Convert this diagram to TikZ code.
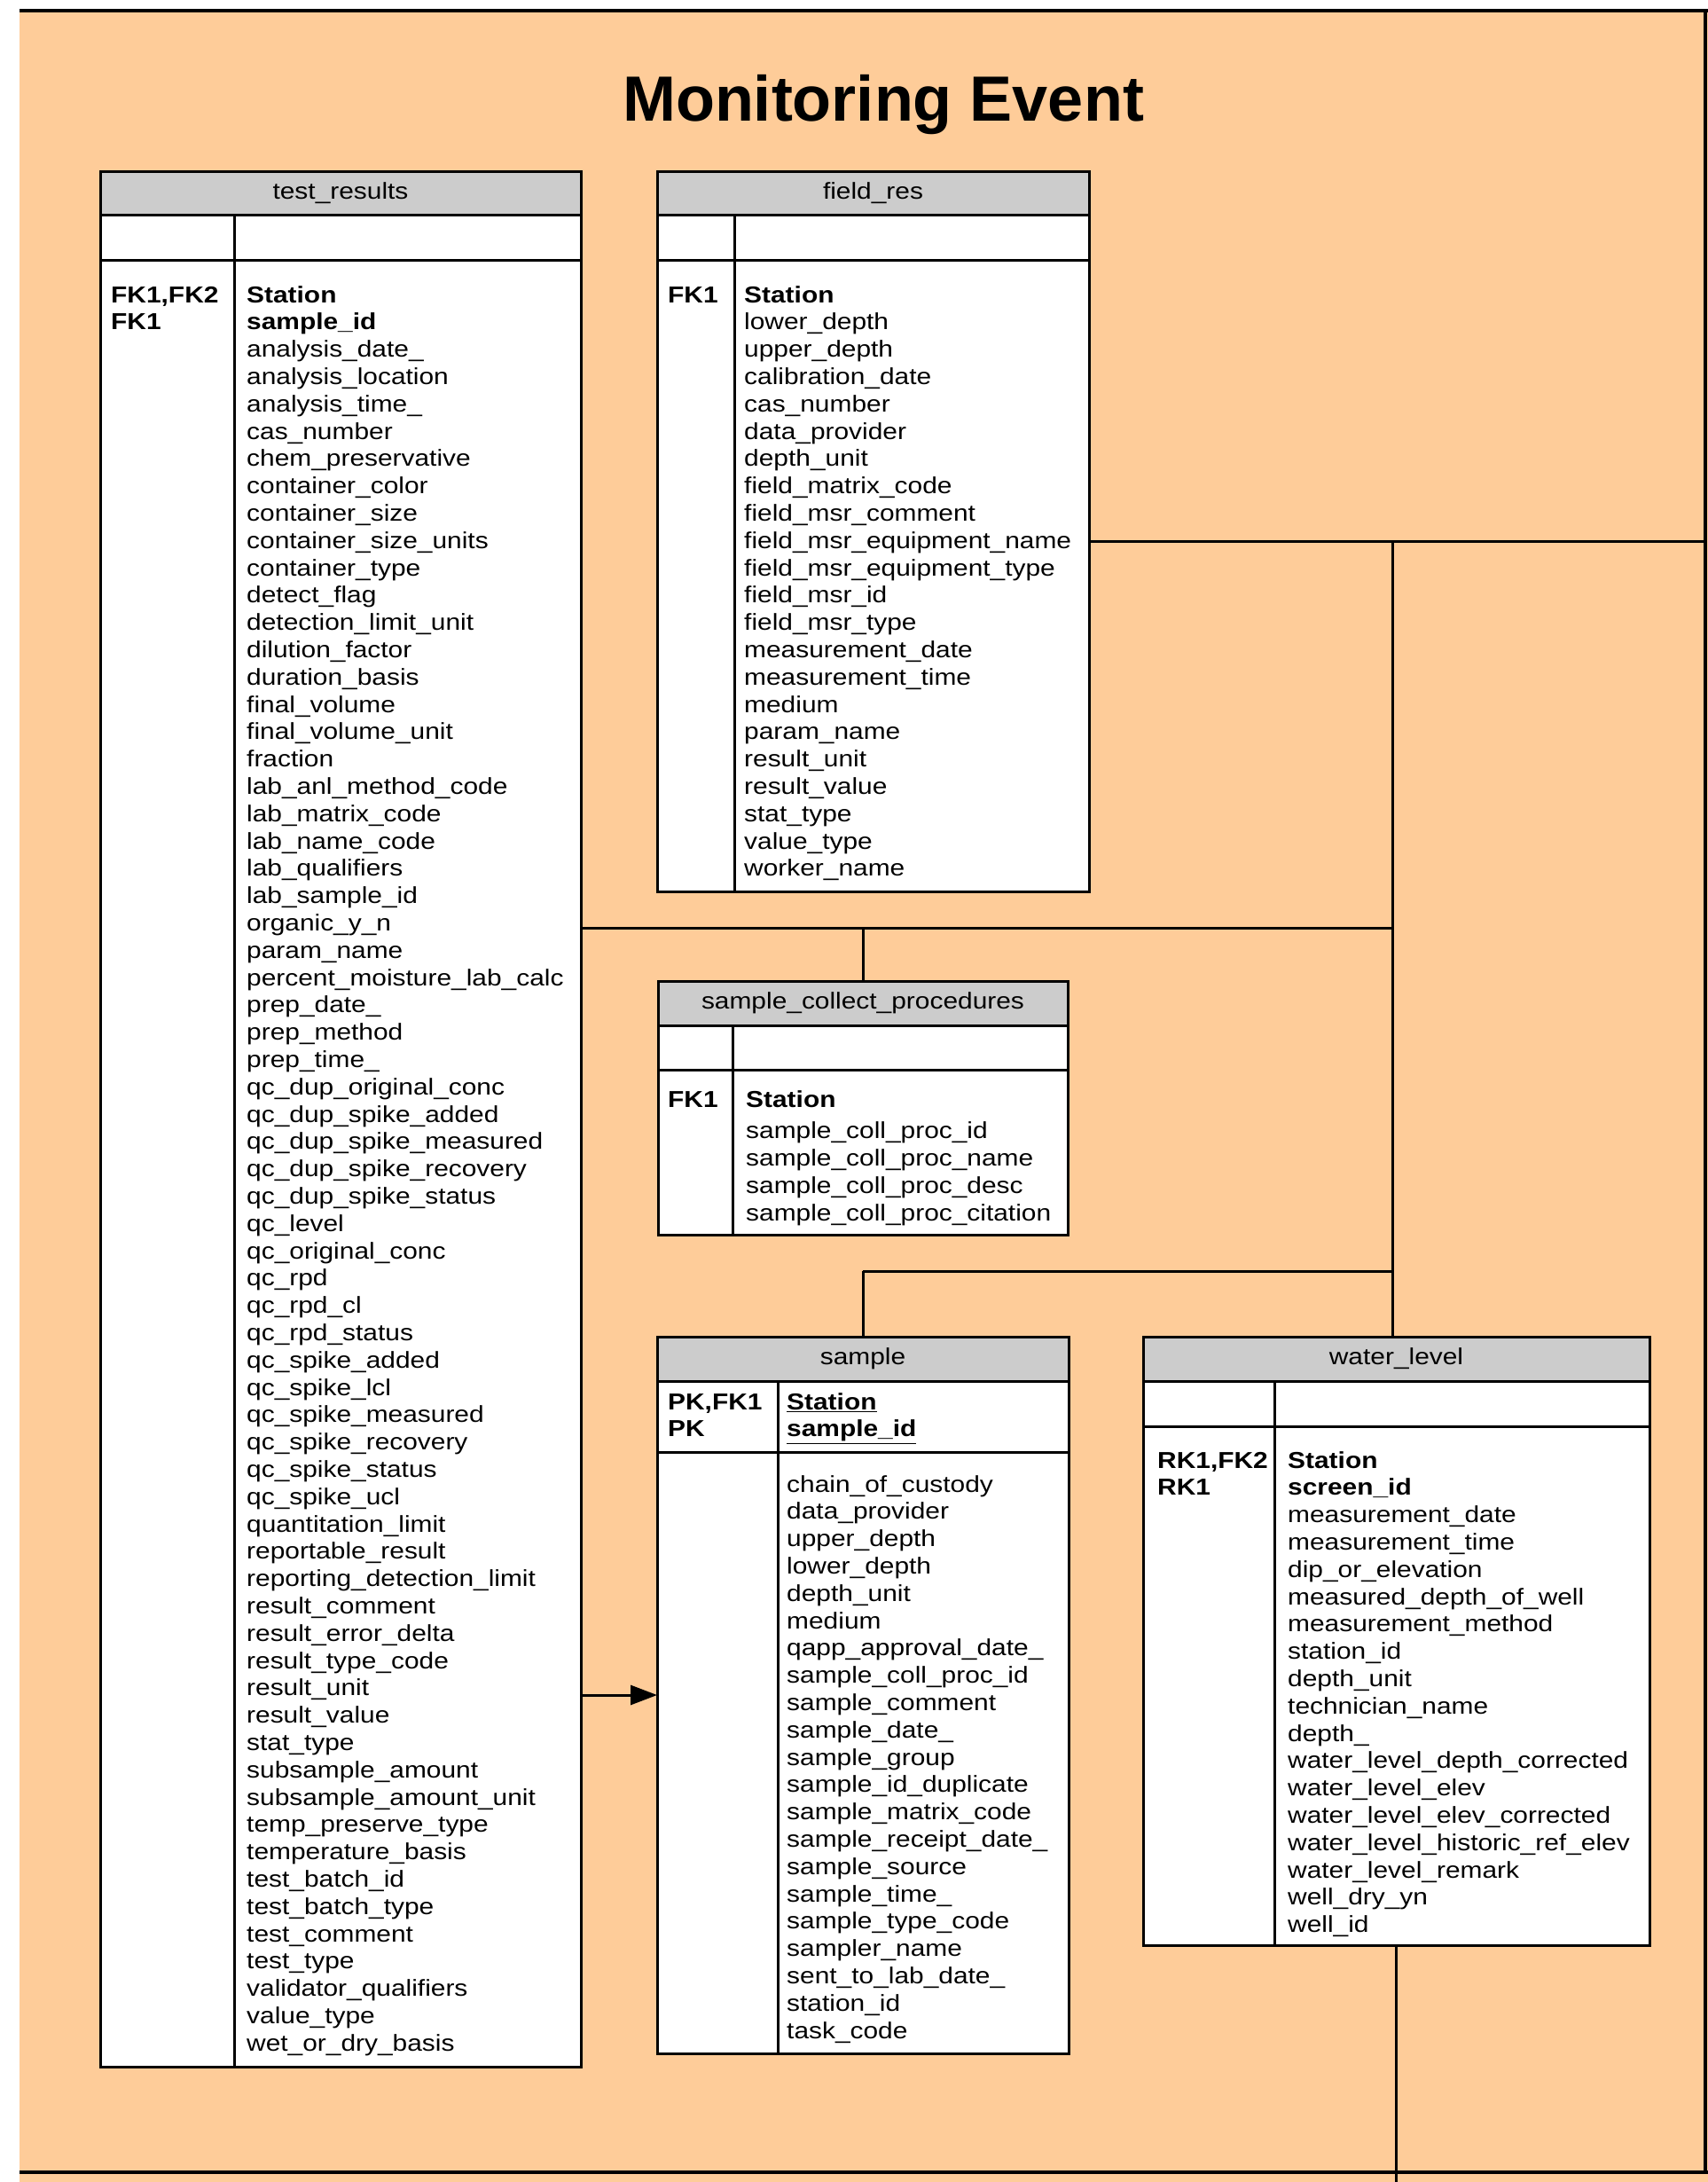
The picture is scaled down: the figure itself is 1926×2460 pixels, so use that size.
\documentclass[tikz,border=0pt]{standalone}
\usepackage{fontspec}
\setmainfont{Liberation Sans}[FakeStretch=1.15]
\newfontfamily\titlefont{Liberation Sans}
\usetikzlibrary{arrows.meta}
\definecolor{eventbg}{RGB}{254,204,153}
\definecolor{headgray}{RGB}{204,204,204}

\begin{document}
\catcode`\_=12
\begin{tikzpicture}[x=1pt, y=-1pt,
    tableline/.style={line width=3pt},
    tablehead/.style={draw, line width=3pt, fill=headgray, anchor=north west, inner sep=0pt, outer sep=0pt,
        font=\fontsize{26}{30.8}\selectfont},
    tablerow/.style={draw, line width=3pt, fill=white, anchor=north west, inner sep=0pt, outer sep=0pt},
    fields/.style={anchor=north west, inner sep=0pt, align=left, font=\fontsize{26}{30.8}\selectfont},
    keys/.style={fields, font=\fontsize{26}{30.8}\selectfont\bfseries},
    link/.style={line width=3pt},
    frameline/.style={line width=4pt}]
    \useasboundingbox (0,0) rectangle (1926,2460);
    \fill[white] (0,0) rectangle (1926,2460);

    % Monitoring Event area
    \fill[eventbg] (22,12) rectangle (1926,2460);
    \draw[frameline] (22,12) -- (1926,12)
        (1923,12) -- (1923,2449)
        (22,2449) -- (1926,2449);
    \node[font=\titlefont\bfseries\fontsize{72}{80}\selectfont, anchor=base] (title) at (996,136) {Monitoring Event};

    % test_results
    \node[tablehead, minimum width=542pt, minimum height=49pt] (trhead) at (113,193) {test_results};
    \node[tablerow, minimum width=542pt, minimum height=51pt] (trkey) at (113,242) {};
    \node[tablerow, minimum width=542pt, minimum height=2037pt] (trbody) at (113,293) {};
    \draw[tableline] (264,242) -- (264,2330);
    \node[keys] (trkeys) at (125,319.4) {\strut FK1,FK2\\FK1};
    \node[fields] (trfields) at (278,319.4) {\strut\textbf{Station}\\
        \textbf{sample_id}\\
        analysis_date_\\
        analysis_location\\
        analysis_time_\\
        cas_number\\
        chem_preservative\\
        container_color\\
        container_size\\
        container_size_units\\
        container_type\\
        detect_flag\\
        detection_limit_unit\\
        dilution_factor\\
        duration_basis\\
        final_volume\\
        final_volume_unit\\
        fraction\\
        lab_anl_method_code\\
        lab_matrix_code\\
        lab_name_code\\
        lab_qualifiers\\
        lab_sample_id\\
        organic_y_n\\
        param_name\\
        percent_moisture_lab_calc\\
        prep_date_\\
        prep_method\\
        prep_time_\\
        qc_dup_original_conc\\
        qc_dup_spike_added\\
        qc_dup_spike_measured\\
        qc_dup_spike_recovery\\
        qc_dup_spike_status\\
        qc_level\\
        qc_original_conc\\
        qc_rpd\\
        qc_rpd_cl\\
        qc_rpd_status\\
        qc_spike_added\\
        qc_spike_lcl\\
        qc_spike_measured\\
        qc_spike_recovery\\
        qc_spike_status\\
        qc_spike_ucl\\
        quantitation_limit\\
        reportable_result\\
        reporting_detection_limit\\
        result_comment\\
        result_error_delta\\
        result_type_code\\
        result_unit\\
        result_value\\
        stat_type\\
        subsample_amount\\
        subsample_amount_unit\\
        temp_preserve_type\\
        temperature_basis\\
        test_batch_id\\
        test_batch_type\\
        test_comment\\
        test_type\\
        validator_qualifiers\\
        value_type\\
        wet_or_dry_basis};

    % field_res
    \node[tablehead, minimum width=487pt, minimum height=49pt] (frhead) at (741,193) {field_res};
    \node[tablerow, minimum width=487pt, minimum height=51pt] (frkey) at (741,242) {};
    \node[tablerow, minimum width=487pt, minimum height=712pt] (frbody) at (741,293) {};
    \draw[tableline] (828,242) -- (828,1005);
    \node[keys] (frkeys) at (753,319.4) {\strut FK1};
    \node[fields] (frfields) at (839,319.4) {\strut\textbf{Station}\\
        lower_depth\\
        upper_depth\\
        calibration_date\\
        cas_number\\
        data_provider\\
        depth_unit\\
        field_matrix_code\\
        field_msr_comment\\
        field_msr_equipment_name\\
        field_msr_equipment_type\\
        field_msr_id\\
        field_msr_type\\
        measurement_date\\
        measurement_time\\
        medium\\
        param_name\\
        result_unit\\
        result_value\\
        stat_type\\
        value_type\\
        worker_name};

    % sample_collect_procedures
    \node[tablehead, minimum width=462pt, minimum height=50pt] (sphead) at (742,1106) {sample_collect_procedures};
    \node[tablerow, minimum width=462pt, minimum height=50pt] (spkey) at (742,1156) {};
    \node[tablerow, minimum width=462pt, minimum height=186pt] (spbody) at (742,1206) {};
    \draw[tableline] (826,1156) -- (826,1392);
    \node[keys] (spkeys) at (753,1226.4) {\strut FK1};
    \node[fields] (spfields) at (841,1226.4) {\strut\textbf{Station}\\[5pt]
        sample_coll_proc_id\\
        sample_coll_proc_name\\
        sample_coll_proc_desc\\
        sample_coll_proc_citation};

    % sample
    \node[tablehead, minimum width=464pt, minimum height=50pt] (smhead) at (741,1507) {sample};
    \node[tablerow, minimum width=464pt, minimum height=80pt] (smkey) at (741,1557) {};
    \node[tablerow, minimum width=464pt, minimum height=678pt] (smbody) at (741,1637) {};
    \draw[tableline] (877,1557) -- (877,2315);
    \node[keys] (smkeys) at (753,1567.4) {\strut PK,FK1\\PK};
    \node[fields] (smpk) at (887,1567.4) {\strut\underline{\textbf{Station}}\\\underline{\textbf{sample_id}}};
    \node[fields] (smfields) at (887,1660.4) {\strut chain_of_custody\\
        data_provider\\
        upper_depth\\
        lower_depth\\
        depth_unit\\
        medium\\
        qapp_approval_date_\\
        sample_coll_proc_id\\
        sample_comment\\
        sample_date_\\
        sample_group\\
        sample_id_duplicate\\
        sample_matrix_code\\
        sample_receipt_date_\\
        sample_source\\
        sample_time_\\
        sample_type_code\\
        sampler_name\\
        sent_to_lab_date_\\
        station_id\\
        task_code};

    % water_level
    \node[tablehead, minimum width=571pt, minimum height=50pt] (wlhead) at (1289,1507) {water_level};
    \node[tablerow, minimum width=571pt, minimum height=51pt] (wlkey) at (1289,1557) {};
    \node[tablerow, minimum width=571pt, minimum height=585pt] (wlbody) at (1289,1608) {};
    \draw[tableline] (1437,1557) -- (1437,2193);
    \node[keys] (wlkeys) at (1305,1633.4) {\strut RK1,FK2\\RK1};
    \node[fields] (wlfields) at (1452,1633.4) {\strut\textbf{Station}\\
        \textbf{screen_id}\\
        measurement_date\\
        measurement_time\\
        dip_or_elevation\\
        measured_depth_of_well\\
        measurement_method\\
        station_id\\
        depth_unit\\
        technician_name\\
        depth_\\
        water_level_depth_corrected\\
        water_level_elev\\
        water_level_elev_corrected\\
        water_level_historic_ref_elev\\
        water_level_remark\\
        well_dry_yn\\
        well_id};

    % relationships
    \coordinate (jfr) at (1570,610);
    \coordinate (exitr) at (1923,610);
    \coordinate (jtr) at (1570,1046);
    \coordinate (jsc) at (973,1046);
    \coordinate (jsm) at (1570,1433);
    \coordinate (jsm2) at (973,1433);
    \coordinate (ar) at (700,1911);
    \coordinate (wlout) at (1574.5,2460);

    \draw[link] (frbody.east |- jfr) -- (exitr);
    \draw[link] (jfr) -- (jfr |- wlhead.north);
    \draw[link] (trbody.east |- jtr) -- (jtr);
    \draw[link] (jsc) -- (jsc |- sphead.north);
    \draw[link] (jsm2) -- (jsm);
    \draw[link] (jsm2) -- (jsm2 |- smhead.north);
    \draw[link, -{Triangle[length=30pt, width=22pt]}] (trbody.east |- ar) -- (smbody.west |- ar);
    \draw[link] (wlbody.south) -- (wlbody.south |- wlout);
\end{tikzpicture}
\end{document}
